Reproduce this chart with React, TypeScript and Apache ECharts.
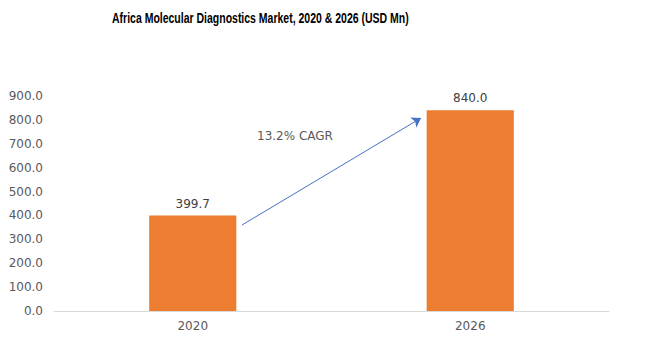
import React, { useEffect, useRef } from "react";
import * as echarts from "echarts";

const categories = ["2020", "2026"];
const values = [399.7, 840.0];
const yTicks = { min: 0, max: 900, interval: 100 };
const titleText = "Africa Molecular Diagnostics Market, 2020 & 2026 (USD Mn)";
const cagrText = "13.2% CAGR";

export default function App() {
  const ref = useRef<HTMLDivElement>(null);
  useEffect(() => {
    if (!ref.current) return;
    const chart = echarts.init(ref.current, undefined, { renderer: "svg" });
    chart.setOption({
      animation: false,
      backgroundColor: "#ffffff",
      grid: { left: 54, right: 41, top: 96, bottom: 44 },
      xAxis: {
        type: "category",
        data: categories,
        axisLine: { lineStyle: { color: "#D9D9D9", width: 1 } },
        axisTick: { show: false },
        axisLabel: {
          color: "#595959",
          fontFamily: "DejaVu Sans",
          fontSize: 12,
          margin: 9,
        },
      },
      yAxis: {
        type: "value",
        min: yTicks.min,
        max: yTicks.max,
        interval: yTicks.interval,
        splitLine: { show: false },
        axisLine: { show: false },
        axisTick: { show: false },
        axisLabel: {
          color: "#595959",
          fontFamily: "DejaVu Sans",
          fontSize: 12,
          margin: 11,
          formatter: (v: number) => v.toFixed(1),
        },
      },
      series: [
        {
          type: "bar",
          data: values,
          barWidth: "31.4%",
          itemStyle: { color: "#ED7D31" },
          label: {
            show: true,
            position: "top",
            distance: 6,
            color: "#404040",
            fontFamily: "DejaVu Sans",
            fontSize: 12,
            formatter: (p: any) => Number(p.value).toFixed(1),
          },
          markLine: {
            silent: true,
            label: { show: false },
            lineStyle: { color: "#4472C4", width: 1, type: "solid" },
            symbolSize: 9,
            data: [
              [
                { x: 242, y: 225, symbol: "none" },
                { x: 421, y: 118, symbol: "arrow" },
              ],
            ],
          },
        },
      ],
      graphic: [
        {
          type: "text",
          x: 112,
          y: 18,
          scaleX: 0.75,
          style: {
            text: titleText,
            fill: "#000000",
            font: "bold 14px Liberation Sans",
            verticalAlign: "middle",
            align: "left",
          },
        },
        {
          type: "text",
          left: 257,
          top: 130,
          style: {
            text: cagrText,
            fill: "#595959",
            font: "12px DejaVu Sans",
          },
        },
      ],
    });
    return () => chart.dispose();
  }, []);
  return (
    <div
      ref={ref}
      style={{ position: "fixed", left: 0, top: 0, width: 650, height: 355 }}
    />
  );
}
